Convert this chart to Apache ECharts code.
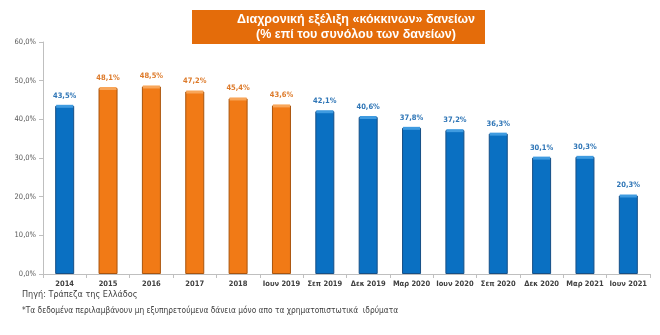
<!DOCTYPE html>
<html>
<head>
<meta charset="utf-8">
<script src="https://cdn.jsdelivr.net/npm/echarts@6/dist/echarts.min.js"></script>
<style>
  html, body { margin: 0; padding: 0; background: #fff; }
  #chart { width: 660px; height: 335px; }
</style>
</head>
<body>
<div id="chart"></div>
<script>
// Ratio of non-performing loans to total loans (%)
const categories = ['2014', '2015', '2016', '2017', '2018', 'Ιουν 2019', 'Σεπ 2019', 'Δεκ 2019',
  'Μαρ 2020', 'Ιουν 2020', 'Σεπ 2020', 'Δεκ 2020', 'Μαρ 2021', 'Ιουν 2021'];
const npeRatio = [43.5, 48.1, 48.5, 47.2, 45.4, 43.6, 42.1, 40.6, 37.8, 37.2, 36.3, 30.1, 30.3, 20.3];
// periods highlighted in orange
const highlighted = ['2015', '2016', '2017', '2018', 'Ιουν 2019'];
const yTicks = [0, 10, 20, 30, 40, 50, 60];

const titleLines = ['Διαχρονική εξέλιξη «κόκκινων» δανείων', '(% επί του συνόλου των δανείων)'];
const sourceNote = 'Πηγή: Τράπεζα της Ελλάδος';
const footNote = '*Τα δεδομένα περιλαμβάνουν μη εξυπηρετούμενα δάνεια μόνο απο τα χρηματοπιστωτικά  ιδρύματα';

const FONT = "'DejaVu Sans Condensed', 'Liberation Sans', sans-serif";
const BLUE = { fill: '#0a70c2', edge: '#164f86', cap: '#3f9be0', label: '#2e75b6' };
const ORANGE = { fill: '#f17a16', edge: '#a9540d', cap: '#f8a65a', label: '#dd7a2a' };
const pal = c => highlighted.includes(c) ? ORANGE : BLUE;

const fmt = v => v.toFixed(1).replace('.', ',') + '%';

const chart = echarts.init(document.getElementById('chart'), null, { renderer: 'canvas' });

chart.setOption({
  animation: false,
  grid: { left: 43, right: 10, top: 42, bottom: 61 },
  xAxis: {
    type: 'category',
    data: categories,
    axisLine: { lineStyle: { color: '#bfbfbf', width: 1 } },
    axisTick: { show: true, length: 4, interval: 0, lineStyle: { color: '#bfbfbf' } },
    axisLabel: { interval: 0, color: '#404040', fontFamily: FONT, fontSize: 7.5, fontWeight: 'bold', margin: 6 }
  },
  yAxis: {
    type: 'value',
    min: yTicks[0],
    max: yTicks[yTicks.length - 1],
    interval: 10,
    axisLine: { show: true, lineStyle: { color: '#bfbfbf', width: 1 } },
    axisTick: { show: true, length: 4, lineStyle: { color: '#bfbfbf' } },
    splitLine: { show: false },
    axisLabel: { color: '#595959', fontFamily: FONT, fontSize: 7.5, margin: 7,
      formatter: v => v.toFixed(1).replace('.', ',') + '%' }
  },
  series: [
    {
      type: 'bar',
      barWidth: 19,
      data: npeRatio.map((v, i) => {
        const p = pal(categories[i]);
        return {
          value: v,
          itemStyle: { color: p.fill, borderColor: p.edge, borderWidth: 1 },
          label: { color: p.label }
        };
      }),
      label: {
        show: true, position: 'top', distance: 6,
        fontFamily: FONT, fontSize: 7.5, fontWeight: 'bold',
        formatter: p => fmt(p.value)
      },
      z: 2
    },
    {
      // lighter cap on top of each bar
      type: 'pictorialBar',
      symbol: 'rect',
      symbolSize: [17, 3],
      symbolPosition: 'end',
      symbolOffset: [0, -1],
      data: npeRatio.map((v, i) => ({ value: v, itemStyle: { color: pal(categories[i]).cap } })),
      silent: true,
      z: 3
    }
  ],
  graphic: [
    {
      type: 'rect',
      shape: { x: 192, y: 10, width: 293, height: 34 },
      style: { fill: '#e46c0a' },
      z: 10
    },
    {
      type: 'text',
      x: 356, y: 19.5,
      style: { text: titleLines[0], fill: '#ffffff', font: "bold 12.5px 'Liberation Sans', sans-serif",
        textAlign: 'center', textVerticalAlign: 'middle' },
      z: 11
    },
    {
      type: 'text',
      x: 356, y: 35,
      style: { text: titleLines[1], fill: '#ffffff', font: "bold 12.5px 'Liberation Sans', sans-serif",
        textAlign: 'center', textVerticalAlign: 'middle' },
      z: 11
    },
    {
      type: 'text',
      x: 22, y: 295,
      style: { text: sourceNote, fill: '#404040', font: "9px " + FONT, textVerticalAlign: 'middle' }
    },
    {
      type: 'text',
      x: 22, y: 311,
      style: { text: footNote, fill: '#404040', font: "8.3px " + FONT, textVerticalAlign: 'middle' }
    }
  ]
});
</script>
</body>
</html>
